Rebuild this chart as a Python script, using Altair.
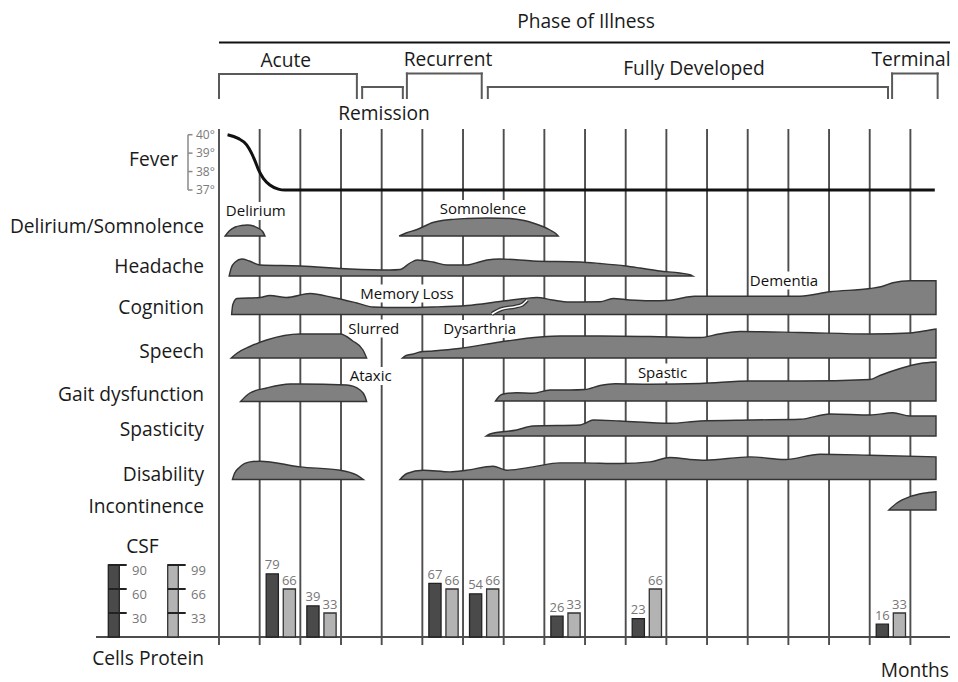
import altair as alt
import pandas as pd

# ======================= DATA =======================
grid_months = list(range(0, 19))

phase_names = ["Acute", "Remission", "Recurrent", "Fully Developed", "Terminal"]
phase_start = [0.0, 3.52, 4.62, 6.61, 16.55]
phase_end = [3.39, 4.52, 6.46, 16.45, 17.67]

fever_month = [0.21, 0.47, 0.68, 0.80, 0.89, 0.97, 1.09, 1.25, 1.46, 1.62, 17.60]
fever_temp = [40.0, 39.8, 39.45, 39.0, 38.55, 38.1, 37.63, 37.27, 37.05, 37.0, 37.0]
temp_ticks = [40, 39, 38, 37]

delirium_m = [0.15, 0.25, 0.40, 0.55, 0.70, 0.85, 1.00, 1.08, 1.13]
delirium_h = [0, 5, 9, 10.5, 11, 10, 7, 4, 0]

somnolence_m = [4.43, 4.60, 4.87, 5.26, 5.70, 6.10, 6.60, 7.16, 7.50, 7.72, 8.14, 8.28, 8.34]
somnolence_h = [0, 3, 6.5, 13.5, 16.5, 17.5, 18, 17.5, 15.5, 13, 6, 2.5, 0]

headache_m = [0.25, 0.30, 0.40, 0.56, 0.75, 1.01, 1.99, 3.22, 4.20, 4.45, 4.70, 4.87, 5.26,
              5.61, 6.10, 6.40, 6.59, 6.91, 7.72, 8.88, 9.37, 10.00, 10.35, 10.84, 11.33,
              11.60, 11.65]
headache_h = [0, 8, 14, 17, 15, 11, 10, 7, 6, 6.5, 13, 16, 14,
              11, 11, 14, 16, 17, 15, 14, 12.5, 10, 8, 5, 3,
              1, 0]

cognition_m = [0.31, 0.34, 0.44, 1.01, 1.25, 1.66, 2.24, 2.80, 3.39, 3.79, 4.45, 5.26, 6.10,
               6.91, 7.52, 7.81, 8.20, 8.60, 9.37, 9.69, 10.10, 10.60, 11.09,
               11.45, 11.70, 13.06, 14.29, 15.02, 16.01, 16.30, 16.57, 16.99, 17.63]
cognition_h = [0, 10, 16, 17, 19, 17, 21, 17, 11.5, 7.5, 7, 7.5, 9,
               13, 16, 17, 14.5, 12.5, 12.7, 16, 14.5, 13.7, 14.3,
               17, 18.3, 18.3, 18.3, 22.7, 26, 28, 31.7, 33.7, 33.7]

slurred_m = [0.30, 0.45, 0.76, 1.17, 1.99, 2.98, 3.29, 3.54, 3.63]
slurred_h = [0, 5, 11.5, 18, 24, 24, 17, 8, 0]

dysarthria_m = [4.51, 4.60, 4.78, 4.94, 5.26, 5.90, 6.91, 7.90, 8.40, 9.37, 10.60, 11.83,
                12.30, 12.81, 14.29, 16.01, 16.99, 17.48, 17.63]
dysarthria_h = [0, 2.5, 4, 6, 7, 9.5, 16, 21, 22, 22, 21.5, 20.5,
                24, 26.5, 25.5, 24, 25, 28, 29]

ataxic_m = [0.53, 0.76, 1.17, 1.75, 1.99, 3.14, 3.47, 3.59, 3.63]
ataxic_h = [0, 8.5, 13.5, 17.5, 17.5, 16.5, 11.5, 5, 0]

spastic_m = [6.80, 6.95, 7.32, 7.72, 8.14, 8.63, 9.00, 9.37, 9.74, 10.60, 11.83, 13.06,
             14.29, 16.01, 16.25, 16.75, 17.24, 17.63]
spastic_h = [0, 6.5, 8.3, 7.7, 11, 11, 11.5, 15.5, 17.3, 16.8, 17.5, 20,
             20, 21.5, 25.5, 32.5, 37.5, 39]

spasticity_m = [6.57, 6.66, 7.32, 7.72, 8.88, 9.00, 9.20, 9.86, 11.09, 11.83, 13.06, 14.29,
                15.02, 16.01, 16.57, 16.99, 17.63]
spasticity_h = [0, 2, 6, 10, 11, 12.7, 16, 15, 12.7, 15, 16, 16.7,
                22, 21, 23.3, 20, 20]

disability1_m = [0.33, 0.38, 0.50, 0.76, 1.01, 1.99, 2.98, 3.39, 3.55]
disability1_h = [0, 6, 12, 17.6, 18.3, 12.6, 9.3, 4.3, 0]

disability2_m = [4.45, 4.62, 5.02, 5.68, 6.09, 6.74, 7.07, 7.72, 8.38, 8.88, 9.86, 10.60,
                 11.09, 11.58, 11.95, 13.06, 13.92, 14.78, 16.01, 17.63]
disability2_h = [0, 6, 9.3, 7.6, 9.3, 13.3, 9.3, 12.6, 16.6, 16.6, 16, 17.6,
                 22, 20, 19.3, 22.6, 20, 25.3, 24.3, 22.6]

incontinence_m = [16.47, 16.66, 16.99, 17.32, 17.63]
incontinence_h = [0, 6.7, 13.3, 16.7, 18.3]

swoosh_m = [6.71, 6.95, 7.28, 7.44, 7.58]
swoosh_rise = [0.5, 5.5, 7.8, 9.5, 14.5]

csf_month = [1, 2, 5, 6, 8, 10, 16]
csf_cells = [79, 39, 67, 54, 26, 23, 16]
csf_protein = [66, 33, 66, 66, 33, 66, 33]
cells_ticks = [90, 60, 30]
protein_ticks = [99, 66, 33]

row_labels = ["Fever", "Delirium/Somnolence", "Headache", "Cognition", "Speech",
              "Gait dysfunction", "Spasticity", "Disability", "Incontinence"]

# ======================= LAYOUT =======================
X0, PXM = 219.0, 40.67          # page px of month 0, px per month


def px2m(px):
    return (px - X0) / PXM


FONT = "Open Sans"
INK = "#1a1a1a"
GRID = "#4d4d4d"
FILL = "#808080"
OUTLINE = "#333333"
CELLS_FILL = "#4a4a4a"
PROT_FILL = "#b3b3b3"
SOFT = "#767676"

GRID_TOP, GRID_BOT = 129, 645
CSF_BASE = 637
CELLS_PX = 72 / 90
PROT_PX = 72 / 99
FEVER_BASE, DEG_PX = 190, 18.43

shapes = [
    ("delirium", delirium_m, delirium_h, 236),
    ("somnolence", somnolence_m, somnolence_h, 236),
    ("headache", headache_m, headache_h, 276),
    ("cognition", cognition_m, cognition_h, 314.5),
    ("slurred", slurred_m, slurred_h, 358),
    ("dysarthria", dysarthria_m, dysarthria_h, 358),
    ("ataxic", ataxic_m, ataxic_h, 401.5),
    ("spastic", spastic_m, spastic_h, 401),
    ("spasticity", spasticity_m, spasticity_h, 436),
    ("disability1", disability1_m, disability1_h, 479.5),
    ("disability2", disability2_m, disability2_h, 479.5),
    ("incontinence", incontinence_m, incontinence_h, 510),
]

row_label_y = [160, 226.7, 266.7, 308, 351.7, 395, 430, 475, 506.7]
row_label_right = [178] + [204] * 8

inner_labels = [("Delirium", 255.8, 211), ("Somnolence", 483, 209),
                ("Memory Loss", 407, 293.5), ("Dementia", 784, 280.5),
                ("Slurred", 373.7, 328.5), ("Dysarthria", 479.7, 329),
                ("Ataxic", 370.7, 376), ("Spastic", 662.5, 372.5)]
INNER_SIZE = 15

phase_top = [74, 87, 73.5, 87, 73.5]
phase_label_pos = [(285.8, 60.5), (384, 114), (448, 60), (694, 68.5), (911, 60)]

W, H = 942, 674
xs = alt.Scale(domain=[px2m(8), px2m(8 + W)], nice=False, zero=False)
ys = alt.Scale(domain=[8, 8 + H], reverse=True, nice=False, zero=False)
X = alt.X("x:Q", scale=xs, axis=None)
Y = alt.Y("y:Q", scale=ys, axis=None)


def segs(rows):
    return pd.DataFrame(rows, columns=["x", "x2", "y", "y2"])


def rule_layer(df, color, width, cap="butt"):
    return alt.Chart(df).mark_rule(color=color, strokeWidth=width, strokeCap=cap).encode(
        x=X, x2="x2:Q", y=Y, y2="y2:Q")


def rect_layer(df, fill, stroke=None, sw=0):
    kw = dict(fill=fill)
    if stroke:
        kw.update(stroke=stroke, strokeWidth=sw)
    return alt.Chart(df).mark_rect(**kw).encode(x=X, x2="x2:Q", y=Y, y2="y2:Q")


def text_layer(df, size, color, align="center", baseline="middle"):
    return alt.Chart(df).mark_text(align=align, baseline=baseline, fontSize=size,
                                   color=color, font=FONT).encode(x=X, y=Y, text="t:N")


layers = []

# grid lines
layers.append(rule_layer(segs([(m, m, GRID_TOP, GRID_BOT) for m in grid_months]), GRID, 1.9))
# CSF baseline
layers.append(rule_layer(segs([(px2m(96), px2m(8 + W), CSF_BASE, CSF_BASE)]), GRID, 1.9))
# top line under title
layers.append(rule_layer(segs([(0, 18, 42.5, 42.5)]), "#111111", 2))

# phase brackets
br = []
for s, e, t in zip(phase_start, phase_end, phase_top):
    br += [(s, s, t, 98), (s, e, t, t), (e, e, t, 98)]
layers.append(rule_layer(segs(br), "#5a5a5a", 2, cap="square"))

# white boxes behind in-chart labels
boxes = []
for t, px, py in inner_labels:
    w = len(t) * 0.53 * INNER_SIZE + 4
    boxes.append((px2m(px - w / 2), px2m(px + w / 2), py - 9, py + 9))
layers.append(rect_layer(segs(boxes), "white"))

# fever curve
fever_df = pd.DataFrame({"x": fever_month,
                         "y": [FEVER_BASE - (t - 37) * DEG_PX for t in fever_temp]})
layers.append(alt.Chart(fever_df).mark_line(color="#111111", strokeWidth=3,
                                            interpolate="monotone").encode(x=X, y=Y))
# fever bracket
fb = [(px2m(188), px2m(188), FEVER_BASE - 3 * DEG_PX, FEVER_BASE)]
for t in temp_ticks:
    yy = FEVER_BASE - (t - 37) * DEG_PX
    fb.append((px2m(188), px2m(192.5), yy, yy))
layers.append(rule_layer(segs(fb), "#8a8a8a", 1.5))
layers.append(text_layer(pd.DataFrame({
    "x": [px2m(196)] * 4,
    "y": [FEVER_BASE - (t - 37) * DEG_PX for t in temp_ticks],
    "t": [f"{t}°" for t in temp_ticks]}), 12, "#7a7a7a", align="left"))

# symptom shapes
rows = []
for name, ms, hs, base in shapes:
    for m, h in zip(ms, hs):
        rows.append({"shape": name, "x": m, "y": base - h, "y2": base})
shape_df = pd.DataFrame(rows)
layers.append(alt.Chart(shape_df).mark_area(fill=FILL, stroke=OUTLINE, strokeWidth=1.4,
                                            interpolate="monotone", fillOpacity=1).encode(
    x=X, y=Y, y2="y2:Q", detail="shape:N"))

# swoosh separating memory loss and dementia
sw_df = pd.DataFrame({"x": swoosh_m, "y": [314.5 - r for r in swoosh_rise]})
layers.append(alt.Chart(sw_df).mark_line(color=OUTLINE, strokeWidth=4,
                                         interpolate="monotone").encode(x=X, y=Y))
layers.append(alt.Chart(sw_df).mark_line(color="white", strokeWidth=1.6,
                                         interpolate="monotone").encode(x=X, y=Y))

# CSF bars
cells_df = pd.DataFrame({"x": [m + 0.16 for m in csf_month], "x2": [m + 0.46 for m in csf_month],
                         "y": [CSF_BASE - v * CELLS_PX for v in csf_cells], "y2": CSF_BASE})
prot_df = pd.DataFrame({"x": [m + 0.58 for m in csf_month], "x2": [m + 0.88 for m in csf_month],
                        "y": [CSF_BASE - v * PROT_PX for v in csf_protein], "y2": CSF_BASE})
layers.append(rect_layer(cells_df, CELLS_FILL, "#222222", 1.3))
layers.append(rect_layer(prot_df, PROT_FILL, "#333333", 1.3))
bar_lbl = pd.DataFrame({
    "x": [m + 0.31 for m in csf_month] + [m + 0.73 for m in csf_month],
    "y": [CSF_BASE - v * CELLS_PX - 1.5 for v in csf_cells] +
         [CSF_BASE - v * PROT_PX - 1.5 for v in csf_protein],
    "t": [str(v) for v in csf_cells] + [str(v) for v in csf_protein]})
layers.append(text_layer(bar_lbl, 13, SOFT, baseline="bottom"))

# CSF legend
leg_bars = pd.DataFrame({"x": [px2m(108.3), px2m(167.7)], "x2": [px2m(119.3), px2m(178.3)],
                         "y": [CSF_BASE - 90 * CELLS_PX, CSF_BASE - 99 * PROT_PX],
                         "y2": [CSF_BASE, CSF_BASE]})
layers.append(rect_layer(leg_bars.iloc[[0]], CELLS_FILL, "#222222", 1.3))
layers.append(rect_layer(leg_bars.iloc[[1]], PROT_FILL, "#333333", 1.3))
lt = [(px2m(108.3), px2m(126.7), CSF_BASE - v * CELLS_PX, CSF_BASE - v * CELLS_PX) for v in cells_ticks]
lt += [(px2m(167.7), px2m(185.7), CSF_BASE - v * PROT_PX, CSF_BASE - v * PROT_PX) for v in protein_ticks]
layers.append(rule_layer(segs(lt), "#222222", 2))
leg_lbl = pd.DataFrame({
    "x": [px2m(132)] * 3 + [px2m(191)] * 3,
    "y": [CSF_BASE - v * CELLS_PX + 6 for v in cells_ticks] +
         [CSF_BASE - v * PROT_PX + 6 for v in protein_ticks],
    "t": [str(v) for v in cells_ticks] + [str(v) for v in protein_ticks]})
layers.append(text_layer(leg_lbl, 13, SOFT, align="left"))

# in-chart labels
layers.append(text_layer(pd.DataFrame({
    "x": [px2m(p[1]) for p in inner_labels], "y": [p[2] for p in inner_labels],
    "t": [p[0] for p in inner_labels]}), INNER_SIZE, "#111111"))

# row labels
layers.append(text_layer(pd.DataFrame({
    "x": [px2m(r) for r in row_label_right], "y": row_label_y, "t": row_labels}),
    19.2, INK, align="right"))

# phase labels and titles
layers.append(text_layer(pd.DataFrame({
    "x": [px2m(p[0]) for p in phase_label_pos] + [px2m(586), px2m(142.5), px2m(113), px2m(171.5)],
    "y": [p[1] for p in phase_label_pos] + [22, 547, 658.5, 658.5],
    "t": phase_names + ["Phase of Illness", "CSF", "Cells", "Protein"]}), 19.2, INK))
layers.append(text_layer(pd.DataFrame({"x": [px2m(949)], "y": [671], "t": ["Months"]}),
                         19.2, INK, align="right"))

chart = alt.layer(*layers).properties(
    width=W, height=H, padding=0, autosize=alt.AutoSizeParams(type="none"),
    background="white"
).configure_view(stroke=None)

chart.save("out.html", embed_options={"renderer": "svg", "actions": False})
